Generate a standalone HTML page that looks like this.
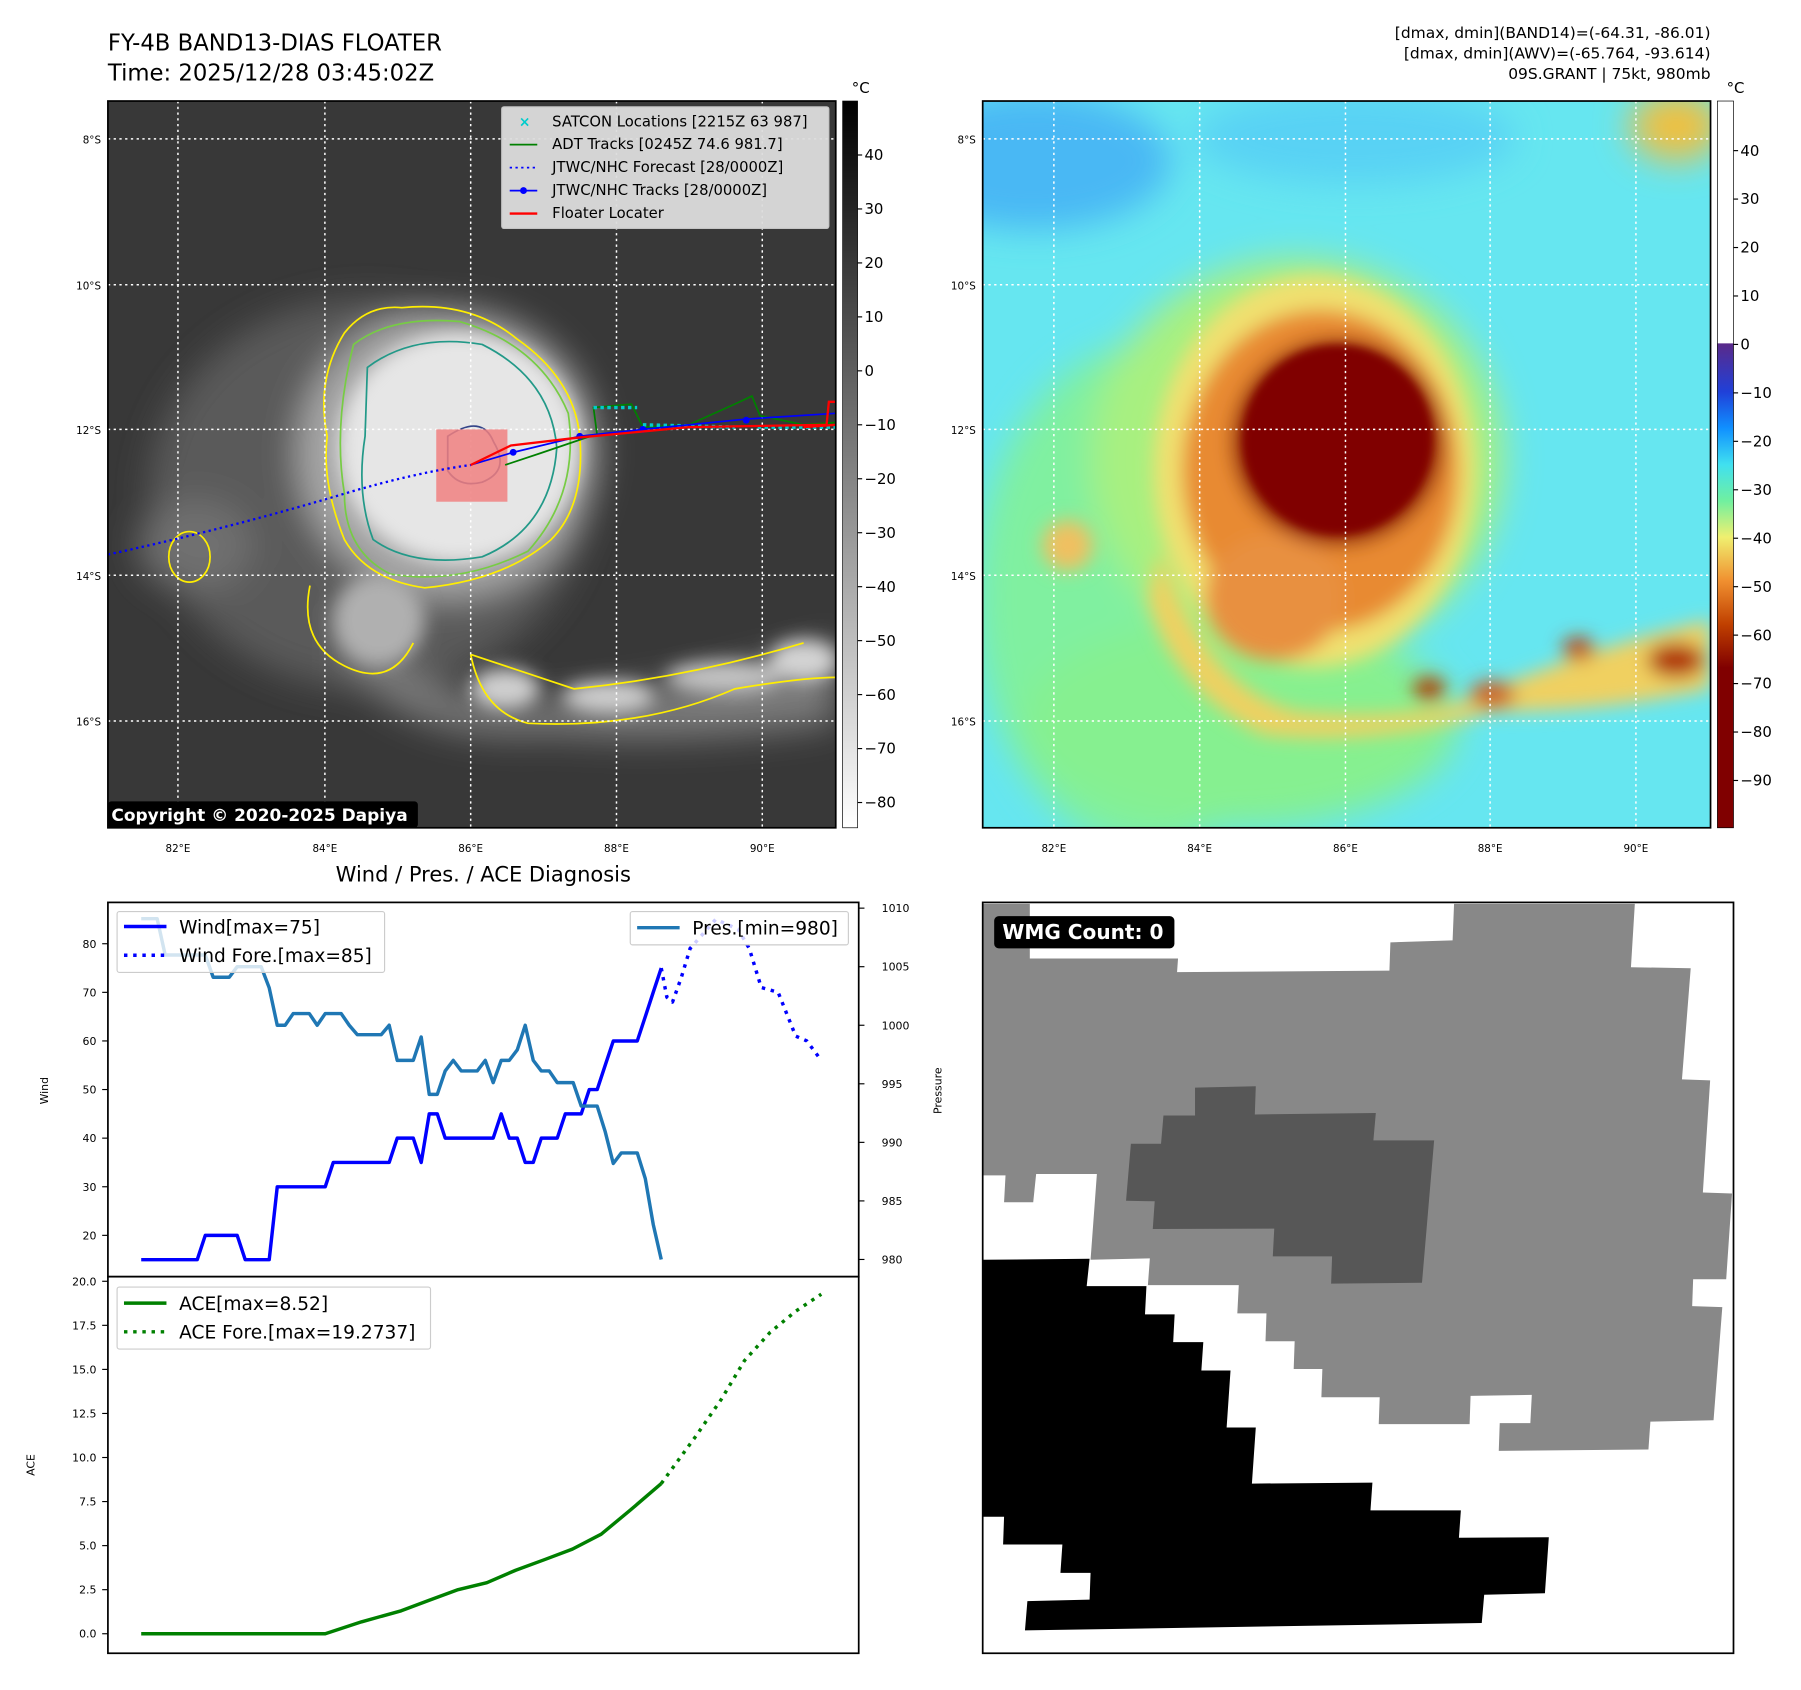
<!DOCTYPE html>
<html><head><meta charset="utf-8"><style>
html,body{margin:0;padding:0;background:#fff;}
svg{display:block;font-family:"DejaVu Sans","Liberation Sans",sans-serif;}
</style></head><body>
<svg id="fig" width="1801" height="1690" viewBox="0 0 1568.8 1472" preserveAspectRatio="none" xmlns="http://www.w3.org/2000/svg">
<defs>
<filter id="b8" x="-30%" y="-30%" width="160%" height="160%"><feGaussianBlur stdDeviation="8"/></filter>
<filter id="b4" x="-30%" y="-30%" width="160%" height="160%"><feGaussianBlur stdDeviation="4"/></filter>
<filter id="b15" x="-30%" y="-30%" width="160%" height="160%"><feGaussianBlur stdDeviation="15"/></filter>
<clipPath id="c1"><rect x="94" y="88" width="634" height="633"/></clipPath>
<clipPath id="c2"><rect x="856" y="88" width="634" height="633"/></clipPath>
<clipPath id="c3"><rect x="856" y="786" width="654" height="654"/></clipPath>
<linearGradient id="cb1" x1="0" y1="0" x2="0" y2="1"><stop offset="0" stop-color="#000"/><stop offset="1" stop-color="#fff"/></linearGradient>
<linearGradient id="cb2" x1="0" y1="0" x2="0" y2="1">
<stop offset="0" stop-color="#fff"/><stop offset="0.333" stop-color="#fff"/><stop offset="0.334" stop-color="#5a2a8a"/>
<stop offset="0.40" stop-color="#2040d8"/><stop offset="0.45" stop-color="#1090ff"/><stop offset="0.50" stop-color="#40e0f0"/>
<stop offset="0.55" stop-color="#70f0a0"/><stop offset="0.60" stop-color="#f0f070"/><stop offset="0.66" stop-color="#f09030"/>
<stop offset="0.72" stop-color="#c04000"/><stop offset="0.78" stop-color="#800000"/><stop offset="1" stop-color="#800000"/></linearGradient>
</defs>

<text x="94" y="44" font-size="19.8">FY-4B BAND13-DIAS FLOATER</text>
<text x="94" y="70" font-size="19.8">Time: 2025/12/28 03:45:02Z</text>
<g font-size="13.5" text-anchor="end">
<text x="1490" y="33">[dmax, dmin](BAND14)=(-64.31, -86.01)</text>
<text x="1490" y="51">[dmax, dmin](AWV)=(-65.764, -93.614)</text>
<text x="1490" y="69">09S.GRANT | 75kt, 980mb</text>
</g>

<!-- IR map -->
<g clip-path="url(#c1)">
<rect x="94" y="88" width="634" height="633" fill="#383838"/>
<g filter="url(#b15)">
<ellipse cx="320" cy="430" rx="190" ry="170" fill="#5a5a5a"/>
<ellipse cx="390" cy="395" rx="130" ry="125" fill="#a8a8a8"/>
<ellipse cx="170" cy="475" rx="50" ry="40" fill="#707070"/>
<path d="M300 520 Q360 620 470 610 Q600 600 728 560 L728 630 Q600 650 480 640 Q360 650 300 580 Z" fill="#7a7a7a"/>
</g>
<g filter="url(#b8)">
<ellipse cx="400" cy="390" rx="105" ry="100" fill="#e6e6e6"/>
<ellipse cx="330" cy="540" rx="40" ry="40" fill="#b0b0b0"/>
<ellipse cx="440" cy="600" rx="30" ry="18" fill="#cfcfcf"/>
<ellipse cx="530" cy="607" rx="40" ry="14" fill="#cfcfcf"/>
<ellipse cx="630" cy="590" rx="50" ry="14" fill="#c4c4c4"/>
<ellipse cx="700" cy="575" rx="30" ry="18" fill="#d4d4d4"/>
</g>
<g fill="none" stroke-width="1.5">
<path d="M300 290 Q320 265 350 268 Q410 262 450 295 Q500 330 505 380 Q510 440 480 470 Q440 505 370 512 Q320 505 300 470 Q280 420 285 380 Q275 330 300 290Z" stroke="#ffee00"/>
<path d="M308 300 Q340 275 400 280 Q470 300 495 360 Q505 430 460 480 Q400 510 340 500 Q300 480 300 430 Q290 370 308 300Z" stroke="#77cc44"/>
<path d="M320 320 Q360 290 420 300 Q480 330 485 390 Q480 460 420 485 Q360 495 325 470 Q310 430 318 380Z" stroke="#229988"/>
<path d="M390 380 Q420 360 430 385 Q445 410 420 420 Q400 425 390 410Z" stroke="#334488"/>
<path d="M270 510 Q260 560 300 580 Q340 600 360 560" stroke="#ffee00"/>
<path d="M410 570 Q420 620 460 630 Q560 635 640 600 Q700 590 728 590 M410 570 Q440 580 500 600 Q600 590 700 560" stroke="#ffee00"/>
<ellipse cx="165" cy="485" rx="18" ry="22" stroke="#ffee00"/>
</g>
<g stroke="#fff" stroke-width="1.3" stroke-dasharray="2,3">
<line x1="155" y1="88" x2="155" y2="721"/><line x1="283" y1="88" x2="283" y2="721"/><line x1="410" y1="88" x2="410" y2="721"/><line x1="537" y1="88" x2="537" y2="721"/><line x1="664" y1="88" x2="664" y2="721"/>
<line x1="94" y1="121" x2="728" y2="121"/><line x1="94" y1="248" x2="728" y2="248"/><line x1="94" y1="374" x2="728" y2="374"/><line x1="94" y1="501" x2="728" y2="501"/><line x1="94" y1="628" x2="728" y2="628"/>
</g>
<rect x="380" y="374" width="62" height="63" fill="#f08080" opacity="0.85"/>
<path d="M94 483 Q200 460 300 430 Q360 412 410 405" fill="none" stroke="#0000ff" stroke-width="2" stroke-dasharray="2,3"/>
<path d="M440 405 L470 395 L520 378 L517 355 L550 352 L560 372 L600 370 L640 352 L655 345 L662 362 L700 370 L728 368" fill="none" stroke="#008000" stroke-width="1.5"/>
<path d="M517 355 L555 355 M560 370 L640 372 M660 372 L728 372" fill="none" stroke="#00cccc" stroke-width="3" stroke-dasharray="3,3"/>
<path d="M410 405 L447 394 L505 380 L560 374 L650 365 L728 360" fill="none" stroke="#0000ff" stroke-width="1.5"/>
<g fill="#0000ff"><circle cx="447" cy="394" r="3"/><circle cx="505" cy="380" r="3"/><circle cx="560" cy="374" r="3"/><circle cx="650" cy="366" r="3"/></g>
<path d="M410 405 L445 388 L505 381 L600 372 L720 370 L722 350 L728 350 M700 372 L728 370" fill="none" stroke="#ff0000" stroke-width="2"/>
</g>
<rect x="94" y="88" width="634" height="633" fill="none" stroke="#000" stroke-width="1.5"/>
<g font-size="12.9">
<rect x="437" y="93" width="285" height="106" fill="#ddd" stroke="#ccc" opacity="0.95" rx="2"/>
<text x="452" y="110" fill="#00cccc" font-size="12" font-weight="bold">×</text><text x="481" y="110">SATCON Locations [2215Z 63 987]</text>
<line x1="444" y1="126" x2="468" y2="126" stroke="#008000" stroke-width="1.5"/><text x="481" y="130">ADT Tracks [0245Z 74.6 981.7]</text>
<line x1="444" y1="146" x2="468" y2="146" stroke="#0000ff" stroke-width="1.5" stroke-dasharray="2,3"/><text x="481" y="150">JTWC/NHC Forecast [28/0000Z]</text>
<line x1="444" y1="166" x2="468" y2="166" stroke="#0000ff" stroke-width="1.5"/><circle cx="456" cy="166" r="3" fill="#0000ff"/><text x="481" y="170">JTWC/NHC Tracks [28/0000Z]</text>
<line x1="444" y1="186" x2="468" y2="186" stroke="#ff0000" stroke-width="2"/><text x="481" y="190">Floater Locater</text>
</g>
<g><rect x="94" y="698" width="270" height="23" fill="#000" rx="3"/><text x="97" y="715" fill="#fff" font-size="14.8" font-weight="bold">Copyright © 2020-2025 Dapiya</text></g>
<g font-size="9" text-anchor="end">
<text x="88" y="125">8°S</text><text x="88" y="252">10°S</text><text x="88" y="378">12°S</text><text x="88" y="505">14°S</text><text x="88" y="632">16°S</text></g>
<g font-size="9" text-anchor="middle">
<text x="155" y="742">82°E</text><text x="283" y="742">84°E</text><text x="410" y="742">86°E</text><text x="537" y="742">88°E</text><text x="664" y="742">90°E</text></g>
<rect x="734" y="88" width="13" height="633" fill="url(#cb1)" stroke="#000" stroke-width="0.6"/>
<text x="742" y="81" font-size="13">°C</text>
<g id="cb1ticks" font-size="13"></g>

<!-- AWV map -->
<g clip-path="url(#c2)">
<rect x="856" y="88" width="634" height="633" fill="#66e6f0"/>
<g filter="url(#b15)">
<ellipse cx="900" cy="140" rx="120" ry="60" fill="#4ab8f4"/>
<ellipse cx="1180" cy="120" rx="140" ry="40" fill="#58d2f4"/>
<ellipse cx="1460" cy="110" rx="40" ry="30" fill="#f0c040"/>
<ellipse cx="1000" cy="520" rx="150" ry="220" fill="#80f0a0"/>
<ellipse cx="1080" cy="630" rx="190" ry="90" fill="#86f090"/>
<ellipse cx="1130" cy="400" rx="180" ry="175" fill="#a8f080"/>
</g>
<g filter="url(#b8)">
<ellipse cx="1145" cy="410" rx="140" ry="170" fill="#f0e070"/>
<path d="M1010 480 Q1050 600 1130 620 Q1250 630 1300 600 Q1400 560 1490 540 L1490 600 Q1400 620 1300 620 Q1200 650 1100 640 Q1020 600 1000 520Z" fill="#f0d060"/>
<ellipse cx="930" cy="475" rx="22" ry="22" fill="#f0c060"/>
<ellipse cx="1150" cy="410" rx="120" ry="140" fill="#e88a30"/>
<ellipse cx="1110" cy="520" rx="60" ry="55" fill="#e89040"/>
<ellipse cx="1165" cy="385" rx="92" ry="90" fill="#900800"/>
<ellipse cx="1245" cy="600" rx="14" ry="10" fill="#b03800"/>
<ellipse cx="1375" cy="565" rx="14" ry="10" fill="#c04010"/>
<ellipse cx="1460" cy="575" rx="25" ry="15" fill="#b03000"/>
<ellipse cx="1300" cy="605" rx="20" ry="12" fill="#d06020"/>
</g>
<ellipse cx="1165" cy="383" rx="82" ry="82" fill="#800000" filter="url(#b4)"/>
<g stroke="#fff" stroke-width="1.3" stroke-dasharray="2,3">
<line x1="918" y1="88" x2="918" y2="721"/><line x1="1045" y1="88" x2="1045" y2="721"/><line x1="1172" y1="88" x2="1172" y2="721"/><line x1="1298" y1="88" x2="1298" y2="721"/><line x1="1425" y1="88" x2="1425" y2="721"/>
<line x1="856" y1="121" x2="1490" y2="121"/><line x1="856" y1="248" x2="1490" y2="248"/><line x1="856" y1="374" x2="1490" y2="374"/><line x1="856" y1="501" x2="1490" y2="501"/><line x1="856" y1="628" x2="1490" y2="628"/>
</g>
</g>
<rect x="856" y="88" width="634" height="633" fill="none" stroke="#000" stroke-width="1.5"/>
<g font-size="9" text-anchor="end">
<text x="850" y="125">8°S</text><text x="850" y="252">10°S</text><text x="850" y="378">12°S</text><text x="850" y="505">14°S</text><text x="850" y="632">16°S</text></g>
<g font-size="9" text-anchor="middle">
<text x="918" y="742">82°E</text><text x="1045" y="742">84°E</text><text x="1172" y="742">86°E</text><text x="1298" y="742">88°E</text><text x="1425" y="742">90°E</text></g>
<rect x="1496" y="88" width="14" height="633" fill="url(#cb2)" stroke="#000" stroke-width="0.6"/>
<text x="1504" y="81" font-size="13">°C</text>
<g id="cb2ticks" font-size="13"></g>

<!-- Diagnosis chart -->
<text x="421" y="768" font-size="18.3" text-anchor="middle">Wind / Pres. / ACE Diagnosis</text>
<rect x="94" y="786" width="654" height="326" fill="#fff" stroke="#000" stroke-width="1.5"/>
<rect x="94" y="1112" width="654" height="328" fill="#fff" stroke="#000" stroke-width="1.5"/>
<g id="axes" font-size="9.5"></g>
<g id="lines"></g>
<text transform="translate(42,950) rotate(-90)" font-size="9.5" text-anchor="middle">Wind</text>
<text transform="translate(820,950) rotate(-90)" font-size="9.5" text-anchor="middle">Pressure</text>
<text transform="translate(30,1276) rotate(-90)" font-size="9.5" text-anchor="middle">ACE</text>
<g font-size="16.2">
<rect x="102" y="794" width="233" height="53" fill="#fff" fill-opacity="0.8" stroke="#ccc" rx="2"/>
<line x1="108" y1="807" x2="145" y2="807" stroke="#0000ff" stroke-width="3"/><text x="156" y="813">Wind[max=75]</text>
<line x1="108" y1="832" x2="145" y2="832" stroke="#0000ff" stroke-width="3" stroke-dasharray="3,5"/><text x="156" y="838">Wind Fore.[max=85]</text>
</g>
<g font-size="16.2">
<rect x="549" y="794" width="190" height="29" fill="#fff" fill-opacity="0.8" stroke="#ccc" rx="2"/>
<line x1="555" y1="808" x2="592" y2="808" stroke="#1f77b4" stroke-width="3"/><text x="603" y="814">Pres.[min=980]</text>
</g>
<g font-size="16.2">
<rect x="102" y="1121" width="273" height="54" fill="#fff" fill-opacity="0.8" stroke="#ccc" rx="2"/>
<line x1="108" y1="1135" x2="145" y2="1135" stroke="#008000" stroke-width="3"/><text x="156" y="1141">ACE[max=8.52]</text>
<line x1="108" y1="1160" x2="145" y2="1160" stroke="#008000" stroke-width="3" stroke-dasharray="3,5"/><text x="156" y="1166">ACE Fore.[max=19.2737]</text>
</g>

<!-- WMG panel -->
<g clip-path="url(#c3)">
<rect x="856" y="786" width="654" height="654" fill="#fff"/>
<g transform="translate(852.6,779.6) scale(0.4233,0.4247)">
<polygon fill="#888" points="8,18 105,18 105,130 410,130 408,158 845,155 847,97 975,93 978,18 1350,18 1342,148 1465,150 1447,378 1505,380 1490,610 1550,612 1538,788 1470,788 1468,843 1530,845 1512,1077 1382,1080 1378,1137 1070,1140 1072,1083 1135,1083 1138,1025 1012,1027 1010,1085 823,1085 825,1030 705,1030 707,972 648,972 650,915 590,915 592,858 532,858 535,800 348,800 352,745 230,748 243,572 118,572 112,630 52,630 55,575 8,575"/>
<polygon fill="#575757" points="445,395 570,392 568,450 817,447 812,503 937,503 912,795 725,797 727,741 605,741 608,684 358,685 362,628 303,627 313,510 375,510 380,452 445,452"/>
<polygon fill="#000" points="8,748 228,746 222,802 345,802 342,860 403,860 400,917 462,917 458,975 518,975 510,1092 570,1092 562,1207 810,1205 806,1262 992,1262 988,1318 1173,1317 1165,1432 1040,1435 1035,1493 95,1508 100,1448 228,1445 230,1390 168,1390 172,1332 50,1332 52,1275 8,1275"/>
</g>
</g>
<rect x="856" y="786" width="654" height="654" fill="none" stroke="#000" stroke-width="1.5"/>
<g><rect x="866" y="798" width="157" height="28" rx="4" fill="#000"/><text x="873" y="818" fill="#fff" font-size="17.5" font-weight="bold">WMG Count: 0</text></g>
</svg>
<script>
const windIdx = Array.from({length:66},(_,i)=>i);
const windVals = [15,15,15,15,15,15,15,15,20,20,20,20,20,15,15,15,15,30,30,30,30,30,30,30,35,35,35,35,35,35,35,35,40,40,40,35,45,45,40,40,40,40,40,40,40,45,40,40,35,35,40,40,40,45,45,45,50,50,55,60,60,60,60,65,70,75];
const presVals = [1009.1,1009.1,1009.1,1006,1006,1006,1006,1006,1006,1004.1,1004.1,1004.1,1005,1005,1005,1005,1003.2,1000,1000,1001,1001,1001,1000,1001,1001,1001,1000,999.2,999.2,999.2,999.2,1000,997,997,997,999,994.1,994.1,996.1,997,996.1,996.1,996.1,997,995.1,997,997,997.9,1000,997,996.1,996.1,995.1,995.1,995.1,993.1,993.1,993.1,990.9,988.2,989.1,989.1,989.1,986.9,983,980];
const windForeIdx = [65,65.7,66.4,67.5,68.6,71.8,74.6,76,77.5,79.6,81.8,83.2,85];
const windForeVals = [75,69,68,73,79,85,83,79,71,70,61,60,56];
const aceIdx = [0,23,27.5,32.5,36,39.6,43.2,46.8,50.4,53.9,57.5,61.1,65];
const aceVals = [0,0,0.67,1.3,1.9,2.5,2.9,3.6,4.2,4.8,5.65,7.0,8.52];
const aceForeIdx = [65,69.3,72.5,75.4,78.6,81.8,85];
const aceForeVals = [8.52,11.2,13.3,15.5,17.1,18.3,19.27];
const windTicks = [20,30,40,50,60,70,80];
const presTicks = [980,985,990,995,1000,1005,1010];
const aceTicks = [0,2.5,5,7.5,10,12.5,15,17.5,20];
const irTicks = [40,30,20,10,0,-10,-20,-30,-40,-50,-60,-70,-80];
const awvTicks = [40,30,20,10,0,-10,-20,-30,-40,-50,-60,-70,-80,-90];

const NS='http://www.w3.org/2000/svg';
const xs = i => 123 + i*(453/65);
const yWind = v => 822 + (80-v)*(254/60);
const yPres = p => 791 + (1010-p)*(306/30);
const yAce = a => 1423 - a*(307/20);
const yIr = t => 135 + (40-t)*4.7;
const yAwv = t => 300 - t*4.22;
function mk(tag, attrs, parent){const e=document.createElementNS(NS,tag);for(const k in attrs)e.setAttribute(k,attrs[k]);parent.appendChild(e);return e;}
const axes=document.getElementById('axes'), lines=document.getElementById('lines');
windTicks.forEach(v=>{const y=yWind(v);
 const t=mk('line',{x1:89,x2:94,y1:y,y2:y,stroke:'#000','stroke-width':1},axes);
 
 
 const l=mk('text',{x:84,y:y+3.5,'text-anchor':'end'},axes);l.textContent=v;
 
 });
presTicks.forEach(v=>{const y=yPres(v);
 mk('line',{x1:748,x2:753,y1:y,y2:y,stroke:'#000','stroke-width':1},axes);
 const l=mk('text',{x:768,y:y+3.5},axes);l.textContent=v;
 
 });
aceTicks.forEach(v=>{const y=yAce(v);
 mk('line',{x1:89,x2:94,y1:y,y2:y,stroke:'#000','stroke-width':1},axes);
 const l=mk('text',{x:84,y:y+3.5,'text-anchor':'end'},axes);l.textContent=v.toFixed(1);
 
 });
function poly(xsArr, ys, yf, color, dash, name){
 const pts=xsArr.map((x,i)=>xs(x).toFixed(1)+','+yf(ys[i]).toFixed(1)).join(' ');
 const p=mk('polyline',{points:pts,fill:'none',stroke:color,'stroke-width':3,'stroke-linejoin':'round'},lines);
 if(dash)p.setAttribute('stroke-dasharray',dash);
 
 
}
poly(windIdx,windVals,yWind,'#0000ff',null,'wind-line');
poly(windForeIdx,windForeVals,yWind,'#0000ff','3,5','wind-forecast-line');
poly(windIdx,presVals,yPres,'#1f77b4',null,'pressure-line');
poly(aceIdx,aceVals,yAce,'#008000',null,'ace-line');
poly(aceForeIdx,aceForeVals,yAce,'#008000','3,5','ace-forecast-line');
const cb1=document.getElementById('cb1ticks');
irTicks.forEach(t=>{const y=yIr(t);mk('line',{x1:747,x2:751,y1:y,y2:y,stroke:'#000'},cb1);
 const l=mk('text',{x:753,y:y+4.5},cb1);l.textContent=t<0?'\u2212'+(-t):t;
 
 });
const cb2=document.getElementById('cb2ticks');
awvTicks.forEach(t=>{const y=yAwv(t);mk('line',{x1:1510,x2:1514,y1:y,y2:y,stroke:'#000'},cb2);
 const l=mk('text',{x:1516,y:y+4.5},cb2);l.textContent=t<0?'\u2212'+(-t):t;
 
 });
</script>
</body></html>
